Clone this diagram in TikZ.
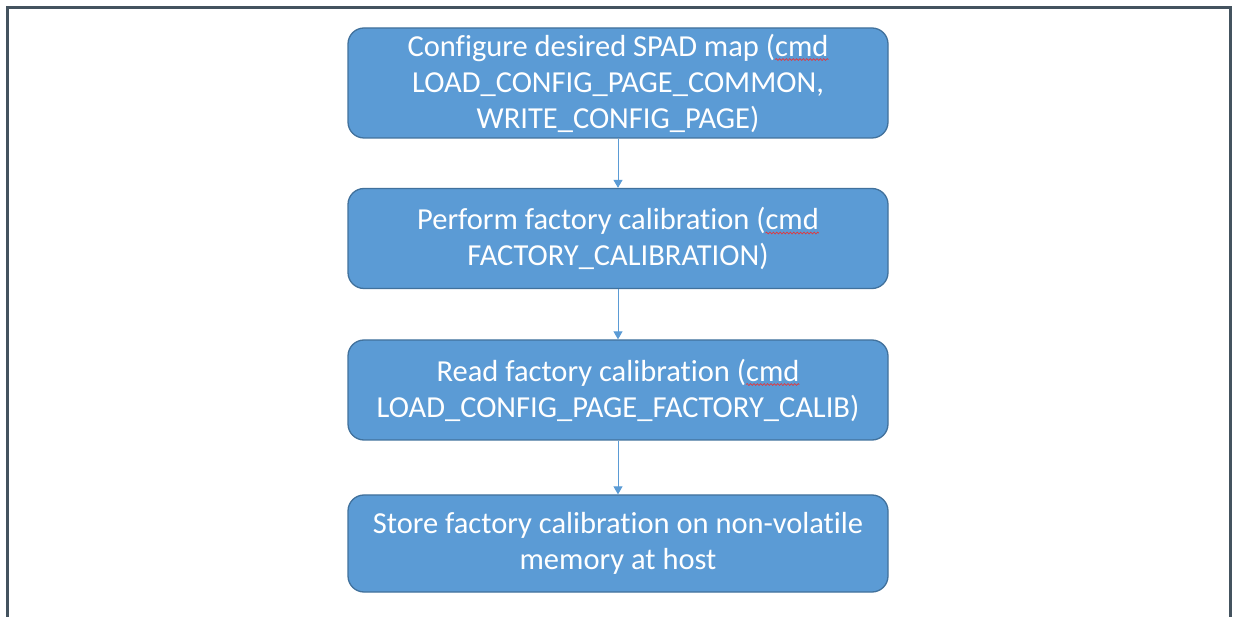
\documentclass[tikz,border=0pt]{standalone}
\usepackage{fontspec}
\setmainfont{Carlito}[Ligatures=NoCommon]
\usetikzlibrary{arrows.meta,decorations.pathmorphing}

\definecolor{boxfill}{HTML}{5B9BD5}
\definecolor{boxline}{HTML}{41719C}
\definecolor{framecol}{HTML}{44535F}
\definecolor{spellred}{HTML}{E0393E}

% red wavy spell-check underline below a word
\newsavebox\spellbox
\newlength\spellwd
\newcommand\spellmark[1]{%
  \sbox\spellbox{#1}%
  \setlength\spellwd{\wd\spellbox}%
  \rlap{\tikz[overlay,x=1pt,y=1pt]\draw[sharp corners,spellred,line width=0.7pt,
      decorate,decoration={snake,amplitude=0.9pt,segment length=3.4pt}]
      (0pt,-3.5pt) -- (\spellwd,-3.5pt);}%
  \usebox\spellbox}

\tikzset{
  stepbox/.style={draw=boxline, line width=1.3pt, fill=boxfill,
    rounded corners=16pt, minimum width=540pt, text=white,
    align=center, inner sep=0pt,
    font=\fontsize{30.5}{36}\selectfont},
  flowarrow/.style={draw=boxfill, line width=1pt,
    -{Triangle[width=9pt,length=8pt]}},
  framepen/.style={draw=framecol, line width=3pt}
}

\begin{document}
\begin{tikzpicture}[x=1pt,y=-1pt]
  \useasboundingbox (0,0) rectangle (1235,617);

  % open frame around the flow
  \draw[framepen] (7.5,617) -- (7.5,7.5) -- (1230.5,7.5) -- (1230.5,617);

  \node[stepbox, minimum height=110pt] (s1) at (618,83)
    {Configure desired SPAD map (\spellmark{cmd}\\LOAD\_CONFIG\_PAGE\_COMMON,\\WRITE\_CONFIG\_PAGE)};
  \node[stepbox, minimum height=100pt] (s2) at (618,238.5)
    {Perform factory calibration (\spellmark{cmd}\\FACTORY\_CALIBRATION)};
  \node[stepbox, minimum height=100pt] (s3) at (618,390)
    {Read factory calibration (\spellmark{cmd}\\LOAD\_CONFIG\_PAGE\_FACTORY\_CALIB)};
  \node[stepbox, minimum height=97pt] (s4) at (618,543.5)
    {Store factory calibration on non-volatile\\memory at host};

  \draw[flowarrow] (s1) -- (s2);
  \draw[flowarrow] (s2) -- (s3);
  \draw[flowarrow] (s3) -- (s4);
\end{tikzpicture}
\end{document}
